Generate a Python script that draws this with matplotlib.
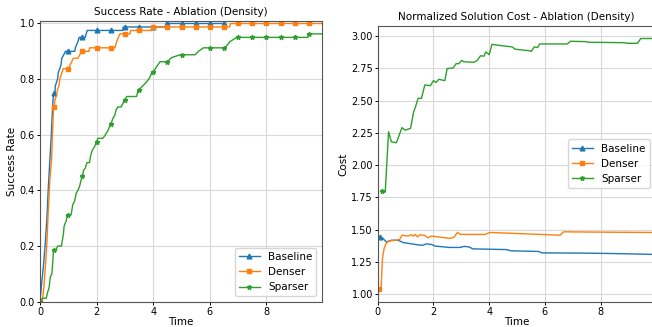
import numpy as np
import matplotlib
matplotlib.use("Agg")
import matplotlib.pyplot as plt

SERIES = ["Baseline", "Denser", "Sparser"]
COLORS = ["#1f77b4", "#ff7f0e", "#2ca02c"]
MARKERS = ["^", "s", "*"]

# success rate curves, (time, rate) points
SUCCESS_BASELINE = [
    (0, 0), (0.06, 0.066), (0.12, 0.126), (0.18, 0.2), (0.24, 0.29), (0.29, 0.40),
    (0.35, 0.51), (0.40, 0.60), (0.45, 0.71), (0.48, 0.75), (0.5, 0.75), (0.53, 0.75),
    (0.54, 0.775), (0.58, 0.7875), (0.62, 0.80), (0.65, 0.825), (0.70, 0.8375),
    (0.74, 0.85), (0.77, 0.875), (0.84, 0.8875), (0.90, 0.9), (1.0, 0.9), (1.23, 0.9),
    (1.25, 0.9125), (1.3, 0.925), (1.35, 0.9375), (1.38, 0.95), (1.5, 0.95), (1.6, 0.95),
    (1.63, 0.9625), (1.67, 0.975), (2.0, 0.975), (2.5, 0.975), (2.92, 0.975),
    (2.94, 0.9875), (3.0, 0.9875), (3.5, 0.9875), (4.0, 0.9875), (4.43, 0.9875),
    (4.45, 1.0), (4.5, 1.0), (5.0, 1.0), (5.5, 1.0), (6.0, 1.0), (6.5, 1.0), (6.55, 1.0),
]
SUCCESS_DENSER = [
    (0, 0), (0.09, 0.006), (0.15, 0.066), (0.24, 0.2), (0.29, 0.32), (0.35, 0.44),
    (0.41, 0.51), (0.44, 0.6), (0.48, 0.70), (0.5, 0.70), (0.53, 0.725), (0.58, 0.74),
    (0.62, 0.7625), (0.67, 0.775), (0.70, 0.8), (0.74, 0.8125), (0.82, 0.8375),
    (1.0, 0.8375), (1.06, 0.85), (1.12, 0.8625), (1.18, 0.875), (1.33, 0.875),
    (1.41, 0.8875), (1.46, 0.9), (1.5, 0.9), (1.73, 0.9), (1.75, 0.9125), (2.0, 0.9125),
    (2.5, 0.9125), (2.65, 0.9125), (2.68, 0.925), (2.72, 0.9375), (2.77, 0.95),
    (2.82, 0.9625), (3.0, 0.9625), (3.18, 0.9625), (3.2, 0.975), (3.5, 0.975),
    (3.95, 0.975), (3.97, 0.9875), (4.0, 0.9875), (4.5, 0.9875), (5.0, 0.9875),
    (5.5, 0.9875), (6.0, 0.9875), (6.5, 0.9875), (6.70, 0.9875), (6.73, 1.0), (7.0, 1.0),
    (7.5, 1.0), (8.0, 1.0), (8.5, 1.0), (9.0, 1.0), (9.5, 1.0), (9.95, 1.0),
]
SUCCESS_SPARSER = [
    (0, 0), (0.02, 0.006), (0.1, 0.0125), (0.22, 0.0125), (0.26, 0.03), (0.32, 0.05),
    (0.37, 0.09), (0.42, 0.1), (0.45, 0.14), (0.48, 0.1875), (0.5, 0.1875), (0.58, 0.1875),
    (0.62, 0.2), (0.76, 0.2), (0.79, 0.22), (0.83, 0.245), (0.85, 0.27), (0.9, 0.285),
    (0.93, 0.29), (0.96, 0.3125), (1.0, 0.3125), (1.1, 0.3125), (1.16, 0.35), (1.22, 0.36),
    (1.28, 0.39), (1.34, 0.40), (1.4, 0.415), (1.46, 0.44), (1.5, 0.45), (1.54, 0.4725),
    (1.6, 0.48), (1.66, 0.5), (1.75, 0.5), (1.79, 0.525), (1.85, 0.545), (1.93, 0.5575),
    (2.0, 0.575), (2.05, 0.5875), (2.22, 0.5875), (2.28, 0.595), (2.34, 0.605),
    (2.4, 0.615), (2.46, 0.63), (2.5, 0.6375), (2.58, 0.66), (2.64, 0.67), (2.69, 0.69),
    (2.75, 0.70), (2.87, 0.7), (2.96, 0.72), (3.0, 0.725), (3.06, 0.7375), (3.41, 0.7375),
    (3.47, 0.7625), (3.5, 0.7625), (3.6, 0.7725), (3.77, 0.79), (3.89, 0.8075),
    (3.95, 0.825), (4.0, 0.825), (4.12, 0.845), (4.24, 0.8625), (4.5, 0.8625),
    (4.65, 0.8775), (4.95, 0.8875), (5.0, 0.8875), (5.48, 0.8875), (5.6, 0.9),
    (5.77, 0.9125), (6.0, 0.9125), (6.5, 0.9125), (6.54, 0.9125), (6.71, 0.935),
    (6.95, 0.95), (7.0, 0.95), (7.5, 0.95), (8.0, 0.95), (8.5, 0.95), (9.0, 0.95),
    (9.46, 0.95), (9.48, 0.9625), (9.5, 0.9625), (9.95, 0.9625),
]

# normalized cost curves, (time, cost)
COST_BASELINE = [
    (0.09, 1.445), (0.19, 1.432), (0.31, 1.405), (0.49, 1.418), (0.73, 1.418),
    (0.91, 1.40), (1.21, 1.39), (1.51, 1.38), (1.63, 1.38), (1.75, 1.39), (1.93, 1.385),
    (2.07, 1.372), (2.59, 1.362), (2.95, 1.362), (3.10, 1.37), (3.26, 1.367),
    (3.42, 1.351), (4.51, 1.346), (4.62, 1.346), (4.78, 1.336), (5.77, 1.331),
    (5.89, 1.32), (7.44, 1.318), (8.4, 1.315), (9.95, 1.308),
]
COST_DENSER = [
    (0.05, 1.039), (0.12, 1.039), (0.17, 1.277), (0.23, 1.354), (0.31, 1.398),
    (0.43, 1.413), (0.67, 1.418), (0.79, 1.424), (0.87, 1.457), (1.09, 1.45),
    (1.19, 1.46), (1.27, 1.45), (1.35, 1.463), (1.43, 1.444), (1.51, 1.46), (1.69, 1.455),
    (1.80, 1.437), (1.93, 1.45), (2.23, 1.442), (2.59, 1.432), (2.74, 1.442),
    (2.86, 1.478), (2.98, 1.463), (3.85, 1.463), (4.03, 1.478), (6.55, 1.457),
    (6.67, 1.483), (8.4, 1.48), (9.95, 1.478),
]
COST_SPARSER = [
    (0.15, 1.80), (0.27, 1.79), (0.39, 2.258), (0.49, 2.18), (0.67, 2.173), (0.87, 2.29),
    (0.99, 2.27), (1.18, 2.285), (1.29, 2.413), (1.35, 2.447), (1.45, 2.517), (1.57, 2.517),
    (1.69, 2.62), (1.89, 2.615), (2.0, 2.654), (2.09, 2.64), (2.19, 2.664), (2.41, 2.654),
    (2.49, 2.747), (2.71, 2.752), (2.81, 2.785), (2.91, 2.785), (3.01, 2.81), (3.10, 2.80),
    (3.45, 2.796), (3.57, 2.81), (3.69, 2.847), (3.81, 2.843), (3.88, 2.876), (4.0, 2.855),
    (4.1, 2.935), (4.25, 2.93), (4.82, 2.915), (4.94, 2.897), (5.42, 2.886), (5.51, 2.881),
    (5.62, 2.915), (5.74, 2.91), (5.81, 2.938), (6.80, 2.938), (6.92, 2.959), (7.46, 2.956),
    (7.58, 2.951), (8.84, 2.948), (8.96, 2.943), (9.32, 2.943), (9.44, 2.98), (9.95, 2.98),
]

SUCCESS = [SUCCESS_BASELINE, SUCCESS_DENSER, SUCCESS_SPARSER]
COST = [COST_BASELINE, COST_DENSER, COST_SPARSER]

MARK_STEP = 0.5  # success plot puts a marker every half time unit
X_MAX = 9.95

plt.rcParams["font.family"] = "DejaVu Sans"


def marker_indices(ts):
    return [i for i, t in enumerate(ts) if abs(t / MARK_STEP - round(t / MARK_STEP)) < 1e-9]


def style_axes(ax, title, ylabel):
    ax.set_title(title, fontsize=7.5, pad=4)
    ax.set_xlabel("Time", fontsize=7.5, labelpad=0)
    ax.set_ylabel(ylabel, fontsize=7.5, labelpad=2)
    ax.tick_params(labelsize=7, length=2, width=0.7, pad=1.5)
    ax.grid(True, color="#d8d8d8", linewidth=0.8)
    ax.set_axisbelow(True)
    for s in ax.spines.values():
        s.set_color("#555555")
        s.set_linewidth(0.8)
    ax.set_xlim(0, X_MAX)
    ax.set_xticks([0, 2, 4, 6, 8])


fig = plt.figure(figsize=(6.52, 3.27), dpi=100)
ax1 = fig.add_axes([0.0613, 0.0774, 0.4321, 0.8593])
ax2 = fig.add_axes([0.5793, 0.0774, 0.4253, 0.8431])

for name, pts, color, marker in zip(SERIES, SUCCESS, COLORS, MARKERS):
    t, v = np.array(pts).T
    ax1.plot(t, v, color=color, linewidth=1.0, marker=marker, markersize=3.4,
             markevery=marker_indices(t), label=name)

for name, pts, color, marker in zip(SERIES, COST, COLORS, MARKERS):
    t, v = np.array(pts).T
    ax2.plot(t, v, color=color, linewidth=1.0, marker=marker, markersize=3.4,
             markevery=[0], label=name)

style_axes(ax1, "Success Rate - Ablation (Density)", "Success Rate")
ax1.set_ylim(0, 1.01)
ax1.legend(loc="lower right", fontsize=7.5)

style_axes(ax2, "Normalized Solution Cost - Ablation (Density)", "Cost")
ax2.legend(loc="center right", fontsize=7.5)

fig.savefig("out.png", dpi=100)
